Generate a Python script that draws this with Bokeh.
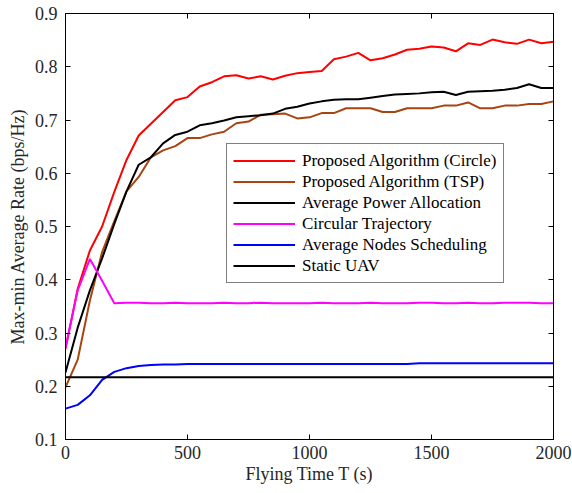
from bokeh.plotting import figure
from bokeh.models import LinearAxis, Legend, LegendItem, FixedTicker, Range1d
from bokeh.embed import file_html
from bokeh.resources import INLINE

t = [0, 50, 100, 150, 200, 250, 300, 350, 400, 450, 500, 550, 600, 650, 700, 750, 800, 850, 900, 950,
     1000, 1050, 1100, 1150, 1200, 1250, 1300, 1350, 1400, 1450, 1500, 1550, 1600, 1650, 1700, 1750,
     1800, 1850, 1900, 1950, 2000]

circle = [0.270, 0.383, 0.455, 0.500, 0.565, 0.625, 0.671, 0.693, 0.715, 0.737, 0.743, 0.763, 0.771,
          0.782, 0.784, 0.778, 0.782, 0.776, 0.783, 0.788, 0.790, 0.792, 0.814, 0.819, 0.826, 0.812,
          0.816, 0.823, 0.832, 0.834, 0.838, 0.836, 0.829, 0.844, 0.841, 0.851, 0.846, 0.843, 0.851,
          0.844, 0.847]

tsp = [0.198, 0.250, 0.361, 0.452, 0.510, 0.566, 0.593, 0.630, 0.643, 0.651, 0.666, 0.666, 0.673,
       0.678, 0.694, 0.697, 0.710, 0.711, 0.712, 0.703, 0.705, 0.713, 0.713, 0.722, 0.722, 0.722,
       0.715, 0.715, 0.722, 0.722, 0.722, 0.727, 0.727, 0.733, 0.722, 0.722, 0.727, 0.727, 0.730,
       0.730, 0.735]

apa = [0.226, 0.310, 0.380, 0.440, 0.505, 0.566, 0.616, 0.630, 0.656, 0.672, 0.678, 0.690, 0.694,
       0.699, 0.705, 0.707, 0.709, 0.712, 0.721, 0.725, 0.731, 0.735, 0.738, 0.739, 0.739, 0.742,
       0.745, 0.748, 0.749, 0.750, 0.752, 0.753, 0.747, 0.753, 0.754, 0.755, 0.757, 0.760, 0.767,
       0.760, 0.760]

circular = [0.273, 0.380, 0.439, 0.398, 0.356, 0.357, 0.357, 0.356, 0.356, 0.357, 0.356, 0.356, 0.356,
            0.357, 0.356, 0.356, 0.357, 0.356, 0.356, 0.356, 0.356, 0.357, 0.356, 0.356, 0.356, 0.357,
            0.356, 0.356, 0.356, 0.357, 0.357, 0.356, 0.356, 0.357, 0.356, 0.356, 0.357, 0.357, 0.357,
            0.356, 0.356]

ans = [0.158, 0.165, 0.183, 0.212, 0.227, 0.234, 0.238, 0.240, 0.241, 0.241, 0.242, 0.242, 0.242,
       0.242, 0.242, 0.242, 0.242, 0.242, 0.242, 0.242, 0.242, 0.242, 0.242, 0.242, 0.242, 0.242,
       0.242, 0.242, 0.242, 0.243, 0.243, 0.243, 0.243, 0.243, 0.243, 0.243, 0.243, 0.243, 0.243,
       0.243, 0.243]

static = [0.217, 0.217, 0.217, 0.217, 0.217, 0.217, 0.217, 0.217, 0.217, 0.217, 0.217, 0.217, 0.217,
          0.217, 0.217, 0.217, 0.217, 0.217, 0.217, 0.217, 0.217, 0.217, 0.217, 0.217, 0.217, 0.217,
          0.217, 0.217, 0.217, 0.217, 0.217, 0.217, 0.217, 0.217, 0.217, 0.217, 0.217, 0.217, 0.217,
          0.217, 0.217]

names = ["Proposed Algorithm (Circle)", "Proposed Algorithm (TSP)", "Average Power Allocation",
         "Circular Trajectory", "Average Nodes Scheduling", "Static UAV"]
series = [circle, tsp, apa, circular, ans, static]
colors = ["#FF0000", "#A84410", "#000000", "#FF00FF", "#0000FF", "#000000"]

x_ticks = [0, 500, 1000, 1500, 2000]
y_ticks = [0.1, 0.2, 0.3, 0.4, 0.5, 0.6, 0.7, 0.8, 0.9]

FONT = "Liberation Serif"

p = figure(width=572, height=493, output_backend="svg", toolbar_location=None,
           x_range=Range1d(0, 2000), y_range=Range1d(0.1, 0.9),
           min_border_left=65, min_border_right=19, min_border_top=13, min_border_bottom=54)
p.xgrid.visible = False
p.ygrid.visible = False
p.outline_line_color = "black"
p.outline_line_width = 1
p.background_fill_color = "white"
p.border_fill_color = "white"

bottom = p.below[0]
left = p.left[0]
bottom.ticker = FixedTicker(ticks=x_ticks)
left.ticker = FixedTicker(ticks=y_ticks)

top = LinearAxis(ticker=FixedTicker(ticks=x_ticks))
right = LinearAxis(ticker=FixedTicker(ticks=y_ticks))
p.add_layout(top, "above")
p.add_layout(right, "right")

for ax in [top, right]:
    ax.major_label_text_font_size = "1px"
    ax.major_label_text_alpha = 0
    ax.major_label_standoff = 0

for ax in [bottom, left, top, right]:
    ax.major_tick_in = 5
    ax.major_tick_out = 0
    ax.minor_tick_line_color = None
    ax.axis_line_color = "black"
    ax.major_tick_line_color = "black"
    ax.major_label_text_font = FONT
    ax.axis_label_text_font = FONT
    ax.axis_label_text_font_style = "normal"
    ax.major_label_text_color = "#262626"
    ax.axis_label_text_color = "#262626"

bottom.major_label_text_font_size = "18px"
left.major_label_text_font_size = "18px"
bottom.axis_label = "Flying Time T (s)"
left.axis_label = "Max-min Average Rate (bps/Hz)"
bottom.axis_label_text_font_size = "18px"
left.axis_label_text_font_size = "18px"
bottom.major_label_standoff = 6
left.major_label_standoff = 8
bottom.axis_label_standoff = 2
left.axis_label_standoff = 4

items = []
for name, ys, c in zip(names, series, colors):
    r = p.line(t, ys, line_color=c, line_width=2)
    items.append(LegendItem(label=name, renderers=[r]))

legend = Legend(items=items, location=(161, 156))
legend.label_text_font = FONT
legend.label_text_font_size = "17px"
legend.label_text_color = "black"
legend.glyph_width = 62
legend.glyph_height = 21
legend.label_height = 21
legend.label_standoff = 7
legend.spacing = 0
legend.padding = 6
legend.margin = 0
legend.border_line_color = "black"
legend.border_line_width = 1
legend.background_fill_alpha = 1
p.add_layout(legend, "center")

open("out.html", "w").write(file_html(p, INLINE))
